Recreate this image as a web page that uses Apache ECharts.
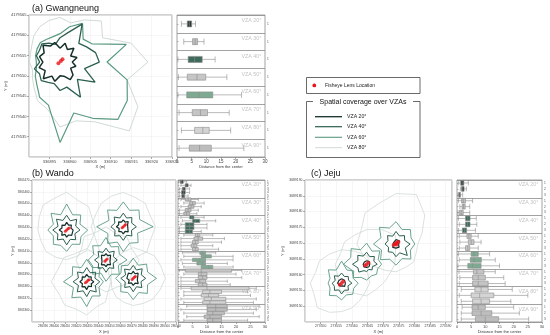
<!DOCTYPE html>
<html><head><meta charset="utf-8">
<script src="https://cdn.jsdelivr.net/npm/echarts@6/dist/echarts.min.js"></script>
<style>html,body{margin:0;padding:0;background:#fff}#c{width:550px;height:335px}</style>
</head><body><div id="c"></div>
<script>
// ---------------- DATA ----------------
const VZA_MAP = ['VZA 20°','VZA 40°','VZA 60°','VZA 80°'];
const VZA_BOX = ['VZA 20°','VZA 30°','VZA 40°','VZA 50°','VZA 60°','VZA 70°','VZA 80°','VZA 90°'];

// axis extents / tick steps (m)
const aXRange=[336890,336925], aYRange=[4179530,4179565], aStep=5;
const bXRange=[286380,286510], bYRange=[3865350,3865470], bStep=10;
const cXRange=[273545,273592], cYRange=[3689145,3689190], cStep=5;

// site centres (m)
const aCenters=[[336897.6,4179553.4]];
const bCenters=[[286411.3,3865427.7],[286462.4,3865430.5],[286446.8,3865402.4],[286429.4,3865384.0],[286471.4,3865386.9]];
const cCenters=[[273556.7,3689157.3],[273564.7,3689163.3],[273574.1,3689169.7]];

// fisheye lens locations, offsets from site centre (m)
const aLens=[[[-0.4,-0.3],[0.2,0.25],[0.6,0.7]]];
const bLens=[[[-1.2,-1.0],[0,0],[1.2,1.2],[2.2,1.8]],[[-1.0,-0.8],[0,0],[1.2,1.1],[2.0,2.0]],[[-1.0,-1.1],[0,0],[1.1,0.9]],[[-1.2,-0.9],[0,0],[1.2,1.2],[2.1,1.6]],[[-1.0,-1.0],[0,0],[1.1,1.1],[2.0,1.5]]];
const cLens=[[[-0.6,-0.5],[0,0],[0.5,0.6]],[[-0.5,-0.4],[0,0],[0.6,0.5]],[[-0.8,-0.3],[-0.3,0],[0,0.3],[0.4,0.5],[0.8,0.7],[0.2,-0.2]]];

// coverage boundary: distance (m) from centre at equal bearings, starting north, clockwise
const aR20=[[3.4,4.8,3.6,4.8,3.0,4.3,3.0,4.0,3.0,4.5,5.0,3.6,3.4,4.9,4.0,5.8,4.2,5.3,4.2,5.2,4.5,5.9,4.6,5.0]];
const aR40=[[6.0,7.5,10.8,6.5,7.5,9.0,9.6,6.2,9.9,6.0,10.0,6.4,7.0,5.5,5.8,6.5,5.8,6.5,5.0,6.0,5.8,6.3,5.4,4.5]];
const aR60=[[7,9,11,8,9,16.8,11.5,17,19,20,16,13,19.8,11,10,8,7,6,5.8,6.2,6.5,6.8,6.5,6.5]];
const aR80=[[11,10,12,14.3,12,18,21.5,17,22,24,17,15,16,12,11,9,7.8,7,7.5,7.5,8,9.1,10,10.6]];

const bR20=[
 [6.5,4.5,6.0,4.2,5.8,4.4,6.4,4.5,6.0,4.0,6.3,4.4,6.8,4.6,6.0,4.3],
 [5.8,4.3,6.3,4.2,5.6,4.5,6.2,4.2,6.0,4.4,5.8,4.0,6.2,4.5,5.9,4.2],
 [5.4,4.0,5.9,4.2,5.5,3.9,5.8,4.0,5.6,4.2,5.9,3.9,5.4,4.2,5.8,4.0],
 [6.2,4.4,5.8,4.2,6.4,4.5,6.0,4.0,6.6,4.4,6.1,4.2,6.2,4.4,5.8,4.2],
 [5.9,4.2,6.2,4.4,5.8,4.0,6.4,4.4,5.9,4.2,6.1,4.0,5.8,4.4,6.2,4.2]];
const bR40=[
 [12.5,8.5,12.8,8.8,12.0,8.0,11.5,8.5,12.5,8.2,11.8,8.6,12.5,8.4,13.0,8.8],
 [11.5,8.0,11.0,8.2,11.8,8.0,11.0,7.8,11.5,8.2,11.0,8.0,11.2,8.2,11.6,8.0],
 [10.0,7.0,10.5,7.2,10.2,7.0,10.0,7.1,10.4,7.0,10.0,7.2,10.3,7.0,10.1,7.0],
 [12.0,8.2,11.5,8.0,11.8,8.4,12.2,8.0,12.5,8.3,12.0,8.1,12.3,8.2,11.7,8.0],
 [11.0,7.6,11.4,7.8,11.2,7.5,11.0,7.7,11.3,7.6,10.9,7.8,11.2,7.5,11.1,7.7]];
const bR60=[
 [22,14,18,13,19,14,17,13,18,14,17,13,17,13,20,14],
 [21,15,20,16,27,14,19,15,21,14,20,15,24,14,20,15],
 [19,12,16,13,19,12,17,13,18,12,17,13,16,12,17,13],
 [19,13,17,12,15,12,17,13,21,14,19,13,21,14,18,13],
 [17,12,17,14,21,14,18,13,18,13,16,12,16,12,15,12]];
const bR80=[
 [32,27,28,25,26,24,25,24,25,25,26,25,26,27,30,29],
 [29,27,28,26,29,27,30,28,33,29,30,27,29,27,28,28],
 [28,24,27,25,30,26,28,25,27,24,26,25,27,24,28,25],
 [28,24,24,21,22,21,24,23,28,25,28,27,32,28,29,26],
 [26,25,27,27,29,26,25,23,23,22,22,21,20,21,23,24]];

const cR20=[
 [1.4,1.0,1.3,0.9,1.2,1.0,1.4,0.9,1.3,1.0,1.4,0.9,1.3,1.0,1.2,0.9],
 [1.1,0.8,1.2,0.8,1.0,0.8,1.1,0.7,1.0,0.8,1.2,0.8,1.1,0.8,1.0,0.8],
 [1.4,1.0,1.5,1.0,1.3,0.9,1.4,1.0,1.3,0.9,1.5,1.0,1.4,0.9,1.3,1.0]];
const cR40=[
 [3.2,2.3,3.0,2.4,3.3,2.2,3.1,2.4,3.4,2.3,3.2,2.5,3.0,2.2,3.3,2.4],
 [3.8,2.6,3.5,2.5,3.4,2.0,2.5,1.8,2.3,2.2,3.5,3.0,4.5,3.0,4.0,2.8],
 [4.0,2.8,3.8,3.0,4.5,3.2,5.1,3.0,4.0,2.8,3.5,2.6,3.5,2.8,3.8,2.7]];
const cR60=[
 [7.0,4.5,5.5,4.0,5.3,4.2,5.0,4.0,5.3,4.3,5.5,4.0,4.3,4.0,6.0,4.5],
 [6.7,4.5,6.0,4.0,4.8,3.8,4.5,4.0,5.0,4.5,6.0,5.0,7.4,5.5,7.0,5.0],
 [7.1,5.0,6.5,5.2,6.0,5.0,6.7,5.0,6.7,5.2,7.0,5.0,7.2,5.2,7.5,5.5]];
const cR80=[
 [10.6,11,12,9,9,8,8,8.5,9,10,11,9.5,10,9,10,10],
 [11,12,13,10,9,8,8,8.5,10,10,12,10,10,9,10,10],
 [16,17,13,9,7,7,8,8,8.8,9,10,11,12.5,12,14,14]];

// distance from the centre: [min, Q1, median, Q3, max] per VZA group, per site
const aBox=[
 [[1.5,3.5,4.2,5.0,6.3]],[[2.3,5.3,6.2,7.0,9.2]],[[0.3,3.8,6.0,8.6,13]],[[0.5,3.5,6.8,9.8,17]],
 [[0.3,3.3,7.5,12.2,22]],[[0.7,5.2,8.0,10.4,17.8]],[[1.5,6.0,8.8,11.0,18.3]],[[0.7,4.2,7.7,11.7,22.8]]];
const bBox=[
 [[0.2,0.8,1.2,1.8,3],[1,2.5,3,3.5,4.5],[0.5,1.5,2,2.5,4],[0.5,1.2,1.8,2.5,4],[0.5,1.3,1.8,2.3,3.5]],
 [[1,2.5,3.5,4.5,7],[2,4,5,6,9],[1,3.5,4.5,5.5,8],[0.5,2.5,3.5,4.5,7],[0.5,2,3,4,6.5]],
 [[1,4,4.8,5.5,9],[1.5,5,6,7.5,13],[1,2.5,4,5.5,10],[0.5,2.5,4,5.5,10],[0.5,2.5,4,5,8]],
 [[2,6,6.8,7.5,12],[1,5.5,7,8.5,16],[1,5,6,7,15],[1,4.5,5.5,6.5,12],[1,5,6,7,14]],
 [[1.5,7.5,8.5,9.5,13],[2,8,9.5,11.5,19],[1,5,7.5,9.5,19],[1.5,6.5,8.5,9.5,17],[2,8,10.5,12,19]],
 [[0.5,2.5,8,18.5,22],[2,7,8,10,20],[1,7,8.5,10,22],[1,6,7.5,9.5,17],[1,7,8.5,10,18]],
 [[1,4.5,10,24.5,27],[2,8.5,11,15,24],[2,8,10.5,14,25],[1,9,11.5,16.5,27],[2,8.5,11,16.5,26]],
 [[3,10,13,17,28],[1,10,13,17,27],[2,10,12,16,26],[3,9,11,15,28],[2,10,12,15,24]]];
const cBox=[
 [[0.6,1.3,1.8,2.4,4],[1.2,1.6,2.0,2.5,3.3],[0.3,0.6,0.9,1.2,2]],
 [[0.5,1.6,2.2,3.0,5.5],[1.0,1.8,2.3,2.9,4.5],[0.3,0.8,1.5,2.2,4.5]],
 [[0.5,3.0,3.8,4.6,6.8],[0.8,3.0,3.7,4.6,7.0],[0.5,1.9,2.7,3.4,6.5]],
 [[0.8,3.5,4.2,5.0,7.5],[1.0,4.0,5.0,6.0,8.5],[0.8,3.0,3.8,4.5,7.5]],
 [[0.5,5.0,6.0,7.5,11.5],[0.8,4.7,6.0,8.6,13.5],[0.3,3.8,5.5,8.5,15.0]],
 [[0.7,5.8,7.0,9.5,13.5],[1.0,5.5,7.5,10,16.5],[0.8,5.5,7.5,11,17]],
 [[1.5,6.3,8.5,11,19.5],[0.8,5.0,8.0,13,25],[1.5,5.5,8.5,11.5,19]],
 [[1.8,5.3,7.5,10,20],[1.5,5.3,8.5,12.3,22],[1.5,6.5,10,14.7,25.3]]];

const aSiteIds=['1'], bSiteIds=['1','2','3','4','5'], cSiteIds=['1','2','3'];
const boxTicks=[0,30,5];

// ---------------- STYLE ----------------
const FONT='Liberation Sans, Arial, sans-serif';
const LINE_COLORS=['#15302a','#2b5f4f','#5a9a7f','#d0dbd4'];
const BOX_COLORS=['#2d3c39','#bfbfbf','#3e6b5b','#c6c6c6','#7eaa92','#c4c4c4','#d4d4d4','#bdbdbd'];
const RED='#e8141c';

const panels=[
 {title:'(a) Gwangneung', tx:32, ty:8.5, xr:aXRange, yr:aYRange, step:aStep, centers:aCenters, lens:aLens,
  rings:[aR20,aR40,aR60,aR80], box:aBox, ids:aSiteIds,
  map:{left:29,top:15,width:143,height:142}, bx:{left:177,top:15,width:88,height:142},
  lw:[1.5,1.3,1.2,1.0], dot:4, fs:4, yGap:21, boxW:6, lblOff:-3, bfs:4.5},
 {title:'(b) Wando', tx:32, ty:173.5, xr:bXRange, yr:bYRange, step:bStep, centers:bCenters, lens:bLens,
  rings:[bR20,bR40,bR60,bR80], box:bBox, ids:bSiteIds,
  map:{left:32,top:180,width:144,height:142}, bx:{left:178,top:180,width:87,height:142},
  lw:[1.2,1.0,0.9,0.8], dot:3, fs:3, yGap:17, boxW:3.3, lblOff:3, bfs:4},
 {title:'(c) Jeju', tx:311, ty:173.5, xr:cXRange, yr:cYRange, step:cStep, centers:cCenters, lens:cLens,
  rings:[cR20,cR40,cR60,cR80], box:cBox, ids:cSiteIds,
  map:{left:305,top:180,width:147,height:142}, bx:{left:457,top:180,width:85,height:142},
  lw:[1.2,1.0,0.9,0.8], dot:3.8, fs:3.4, yGap:20, boxW:4.8, lblOff:2, bfs:4}
];

function ring(c, radii){
  const n=radii.length, pts=[];
  for(let i=0;i<=n;i++){const k=i%n, a=k*2*Math.PI/n; pts.push([c[0]+radii[k]*Math.sin(a), c[1]+radii[k]*Math.cos(a)]);}
  return pts;
}

const grid=[], xAxis=[], yAxis=[], series=[];
const gridBase={show:true, borderColor:'#8a8a8a', borderWidth:0.8, outerBoundsMode:'none', containLabel:false};

panels.forEach((p,pi)=>{
  const mg=pi*2, bg=pi*2+1, n=p.ids.length;
  grid.push(Object.assign({}, gridBase, p.map));
  grid.push(Object.assign({}, gridBase, p.bx));
  const lbl={fontSize:p.fs, color:'#444', fontFamily:FONT, margin:2.5, showMinLabel:false, formatter:v=>String(v)};
  const tick={show:true, length:2, lineStyle:{color:'#777', width:0.6}};
  const split={show:true, lineStyle:{color:'#ececec', width:0.5}};
  xAxis.push({gridIndex:mg, type:'value', min:p.xr[0], max:p.xr[1], interval:p.step,
    axisLabel:Object.assign({},lbl), axisTick:tick, axisLine:{show:false}, splitLine:split,
    name:'X (m)', nameLocation:'middle', nameGap:7.5, nameMoveOverlap:false, nameTextStyle:{fontSize:4, color:'#333', fontFamily:FONT}});
  yAxis.push({gridIndex:mg, type:'value', min:p.yr[0], max:p.yr[1], interval:p.step,
    axisLabel:Object.assign({},lbl), axisTick:tick, axisLine:{show:false}, splitLine:split,
    name:'Y (m)', nameLocation:'middle', nameGap:p.yGap, nameRotate:90, nameMoveOverlap:false, nameTextStyle:{fontSize:4, color:'#333', fontFamily:FONT}});
  // box axes
  xAxis.push({gridIndex:bg, type:'value', min:boxTicks[0], max:boxTicks[1], interval:boxTicks[2],
    axisLabel:{fontSize:p.bfs, color:'#444', fontFamily:FONT, margin:2.5}, axisTick:tick, axisLine:{show:false}, splitLine:{show:false},
    name:'Distance from the center', nameLocation:'middle', nameGap:7.5, nameMoveOverlap:false, nameTextStyle:{fontSize:4, color:'#333', fontFamily:FONT}});
  const cats=[]; p.box.forEach((g,gi)=>g.forEach((r,si)=>cats.push(VZA_BOX[gi]+'-'+p.ids[si])));
  yAxis.push({gridIndex:bg, type:'category', inverse:true, position:'right', data:cats,
    axisLabel:{fontSize:3.2, color:'#555', fontFamily:FONT, margin:2, interval:0, formatter:(v,i)=>p.ids[i%n]},
    axisTick:{show:true, length:1.5, interval:0, alignWithLabel:true, lineStyle:{color:'#777', width:0.5}},
    axisLine:{show:false},
    splitLine:{show:true, interval:(i)=> i%n===0, lineStyle:{color:'#8a8a8a', width:0.8}}});

  // coverage polygons (VZA 80 underneath ... VZA 20 on top)
  for(let v=3; v>=0; v--){
    p.rings[v].forEach((radii,si)=>{
      series.push({type:'line', name:VZA_MAP[v], xAxisIndex:mg, yAxisIndex:mg, data:ring(p.centers[si], radii),
        symbol:'none', silent:true, animation:false, z:2+(3-v),
        lineStyle:{color:LINE_COLORS[v], width:p.lw[v]}});
    });
  }
  const lensPts=[];
  p.centers.forEach((c,si)=>p.lens[si].forEach(o=>lensPts.push([c[0]+o[0], c[1]+o[1]])));
  series.push({type:'scatter', xAxisIndex:mg, yAxisIndex:mg, data:lensPts, symbolSize:p.dot, silent:true, animation:false, z:10,
    itemStyle:{color:RED}});

  // boxplots
  const rows=[];
  p.box.forEach((g,gi)=>g.forEach(r=>rows.push({value:r, itemStyle:{color:BOX_COLORS[gi], borderColor:'#8c8c8c', borderWidth:0.6}})));
  series.push({type:'boxplot', xAxisIndex:bg, yAxisIndex:bg, data:rows, boxWidth:[p.boxW,p.boxW], silent:true, animation:false});
  // VZA group labels
  series.push({type:'scatter', xAxisIndex:bg, yAxisIndex:bg, silent:true, animation:false, symbolSize:0.5,
    itemStyle:{color:'rgba(0,0,0,0)'}, z:12,
    data:p.box.map((g,gi)=>({name:VZA_BOX[gi], value:[boxTicks[1], gi*n]})),
    label:{show:true, formatter:'{b}', position:'left', distance:3.5, offset:[0,p.lblOff], fontSize:5.3, color:'#b3b3b3', fontFamily:FONT}});
});

// titles + legend (decoration)
const graphic=[];
panels.forEach(p=>graphic.push({type:'text', x:p.tx, y:p.ty, style:{text:p.title, fontSize:9, fontFamily:FONT, fill:'#111', verticalAlign:'middle', textVerticalAlign:'middle'}}));
graphic.push({type:'rect', shape:{x:306.5,y:77.5,width:113.5,height:16}, style:{fill:'none', stroke:'#444', lineWidth:0.8}});
graphic.push({type:'circle', shape:{cx:314.3, cy:85.4, r:1.9}, style:{fill:RED}});
graphic.push({type:'text', x:325, y:85.4, style:{text:'Fisheye Lens Location', fontSize:5, fontFamily:FONT, fill:'#222', verticalAlign:'middle', textVerticalAlign:'middle'}});
graphic.push({type:'rect', shape:{x:306.5,y:101.5,width:113.5,height:56}, style:{fill:'none', stroke:'#444', lineWidth:0.8}});
graphic.push({type:'rect', shape:{x:313,y:98,width:100,height:8}, style:{fill:'#fff'}, z:101});
graphic.push({type:'text', x:363, y:102.5, z:102, style:{text:'Spatial coverage over VZAs', fontSize:7, fontFamily:FONT, fill:'#111', align:'center', textAlign:'center', verticalAlign:'middle', textVerticalAlign:'middle'}});
const legY=[116.7,126.7,137.3,147.7], legW=[1.3,1.2,1.1,1.0];
VZA_MAP.forEach((t,i)=>{
  graphic.push({type:'line', shape:{x1:315,y1:legY[i],x2:342,y2:legY[i]}, style:{stroke:LINE_COLORS[i], lineWidth:legW[i]}});
  graphic.push({type:'text', x:347, y:legY[i], style:{text:t, fontSize:5.2, fontFamily:FONT, fill:'#222', verticalAlign:'middle', textVerticalAlign:'middle'}});
});

const chart=echarts.init(document.getElementById('c'), null, {renderer:'canvas'});
chart.setOption({animation:false, backgroundColor:'#fff', textStyle:{fontFamily:FONT}, grid, xAxis, yAxis, series, graphic});
</script></body></html>
